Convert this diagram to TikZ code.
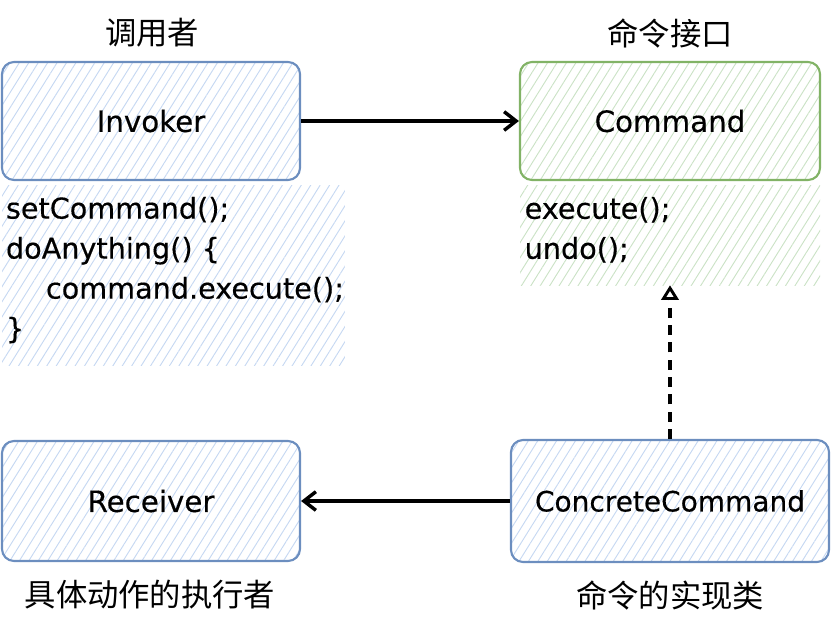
\documentclass[tikz,border=0pt]{standalone}
\usepackage{fontspec}
\setmainfont{DejaVu Sans}[FakeBold=0.4]
\newfontfamily\cjk{Noto Sans CJK SC}
\usetikzlibrary{patterns.meta,arrows.meta}
\definecolor{bluestroke}{HTML}{6C8EBF}
\definecolor{bluehatch}{HTML}{C6D8F2}
\definecolor{greenstroke}{HTML}{82B366}
\definecolor{greenhatch}{HTML}{CBE2C6}
\tikzset{
  hatchblue/.style={pattern={Lines[angle=58,distance=6pt,line width=0.7pt]},pattern color=bluehatch},
  hatchgreen/.style={pattern={Lines[angle=58,distance=6pt,line width=0.7pt]},pattern color=greenhatch},
  classbox/.style={rectangle,rounded corners=9pt,line width=1.6pt,font=\fontsize{22}{26}\selectfont,inner sep=0pt},
  bluebox/.style={classbox,draw=bluestroke,hatchblue},
  greenbox/.style={classbox,draw=greenstroke,hatchgreen},
  codearea/.style={rectangle,inner sep=0pt},
  codetext/.style={anchor=north west,align=left,inner sep=0pt,font=\fontsize{21.5}{30}\selectfont},
  cjklabel/.style={font=\cjk\fontsize{23.5}{28}\selectfont,inner sep=0pt},
  conn/.style={line width=2.6pt,-{Straight Barb[length=9pt,width=14pt,line width=2.6pt]}},
  realize/.style={line width=2.6pt,dash pattern=on 7.5pt off 5.5pt,-{Triangle[open,length=11pt,width=13pt,line width=2.2pt]}}
}
\begin{document}
\begin{tikzpicture}[x=0.75pt,y=-0.75pt]
\useasboundingbox (0,0) rectangle (832,622);
% code areas
\node[codearea,hatchblue,minimum width=257pt,minimum height=135pt] (codeL) at (173.5,275) {};
\node[codearea,hatchgreen,minimum width=225pt,minimum height=75pt] (codeR) at (670,235) {};
% class boxes
\node[bluebox,minimum width=223.5pt,minimum height=88.5pt] (invoker) at (151,121) {Invoker};
\node[greenbox,minimum width=225pt,minimum height=88.5pt] (command) at (670,121) {Command};
\node[bluebox,minimum width=223.5pt,minimum height=90pt] (receiver) at (151,501) {Receiver};
\node[bluebox,minimum width=238.5pt,minimum height=91.5pt,font=\fontsize{21}{26}\selectfont] (concrete) at (670,501) {ConcreteCommand};
% code text
\node[codetext] (codeLtext) at ([xshift=3pt,yshift=-9pt]codeL.north west) {setCommand();\\doAnything() \{\\\hspace*{30pt}command.execute();\\\}};
\node[codetext] (codeRtext) at ([xshift=3.5pt,yshift=-9pt]codeR.north west) {execute();\\undo();};
% labels
\node[cjklabel] (t1) at (152,33) {调用者};
\node[cjklabel] (t2) at (670,33) {命令接口};
\node[cjklabel] (t3) at (150,595) {具体动作的执行者};
\node[cjklabel] (t4) at (670,595) {命令的实现类};
% connectors
\draw[conn] (invoker.east) -- (command.west);
\draw[conn] (concrete.west) -- (receiver.east);
\draw[realize] (concrete.north) -- (codeR.south);
\end{tikzpicture}
\end{document}
